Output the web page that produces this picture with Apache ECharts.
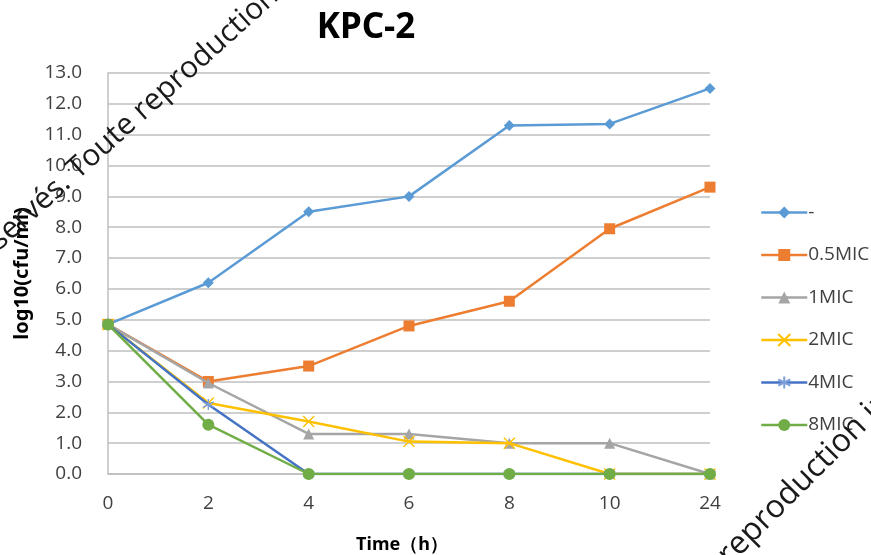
<!DOCTYPE html>
<html>
<head>
<meta charset="utf-8">
<script src="https://cdn.jsdelivr.net/npm/echarts@6/dist/echarts.min.js"></script>
<style>
  html, body { margin: 0; padding: 0; background: #fff; }
  #chart { width: 871px; height: 555px; }
</style>
</head>
<body>
<div id="chart"></div>
<script>
// Sampling times (h)
const timePoints = ['0', '2', '4', '6', '8', '10', '24'];

// log10(cfu/ml) per treatment
const seriesNames = ['-', '0.5MIC', '1MIC', '2MIC', '4MIC', '8MIC'];
const ctrl    = [4.85, 6.2, 8.5, 9.0, 11.3, 11.35, 12.5];
const mic05   = [4.85, 3.0, 3.5, 4.8, 5.6, 7.95, 9.3];
const mic1    = [4.85, 2.95, 1.3, 1.3, 1.0, 1.0, 0.0];
const mic2    = [4.85, 2.3, 1.7, 1.05, 1.0, 0.0, 0.0];
const mic4    = [4.85, 2.25, 0.0, 0.0, 0.0, 0.0, 0.0];
const mic8    = [4.85, 1.6, 0.0, 0.0, 0.0, 0.0, 0.0];

const yTicks = { min: 0, max: 13, interval: 1 };

const palette = ['#5B9BD5', '#ED7D31', '#A5A5A5', '#FFC000', '#4472C4', '#70AD47'];
const symbols = [
  'diamond',
  'rect',
  'triangle',
  'path://M0,0L10,10M10,0L0,10',
  'path://M5,0L5,10M0.7,2.5L9.3,7.5M0.7,7.5L9.3,2.5',
  'circle'
];
const symbolSizes = [11, 11, 11, 11, 11, 12];
const values = [ctrl, mic05, mic1, mic2, mic4, mic8];

const font = '"Open Sans", sans-serif';

const chart = echarts.init(document.getElementById('chart'), null, { renderer: 'canvas' });

const series = seriesNames.map((name, i) => {
  const strokeOnly = i === 3 || i === 4;
  const markColor = i === 4 ? '#7F9FDB' : palette[i];
  return {
    name: name,
    type: 'line',
    data: values[i],
    symbol: symbols[i],
    symbolSize: symbolSizes[i],
    showAllSymbol: true,
    z: 2 + i,
    lineStyle: { color: palette[i], width: 2.5 },
    itemStyle: strokeOnly
      ? { color: markColor, borderColor: markColor, borderWidth: 1.4 }
      : { color: palette[i], borderWidth: 0 },
    emphasis: { disabled: true },
    animation: false
  };
});

// Diagonal notice text printed across the sheet
function notice(x, y, deg, before, after, color, size) {
  const rot = deg * Math.PI / 180;
  const common = { fontSize: size, fontFamily: '"Open Sans", sans-serif', fill: color, verticalAlign: 'middle' };
  return [
    { type: 'text', x: x, y: y, rotation: rot, z: 100, silent: true,
      style: Object.assign({ text: before, align: 'right' }, common) },
    { type: 'text', x: x, y: y, rotation: rot, z: 100, silent: true,
      style: Object.assign({ text: after, align: 'left' }, common) }
  ];
}

chart.setOption({
  backgroundColor: '#ffffff',
  animation: false,
  title: {
    text: 'KPC-2',
    left: 361,
    top: 6,
    textAlign: 'center',
    textStyle: { fontSize: 35, fontWeight: 'bold', color: '#000', fontFamily: '"Noto Sans", sans-serif' }
  },
  grid: { left: 108, right: 161, top: 73, bottom: 81, containLabel: false, outerBoundsMode: 'none' },
  legend: {
    orient: 'vertical',
    left: 755,
    top: 198,
    itemWidth: 46,
    itemHeight: 15,
    itemGap: 23.5,
    lineStyle: { width: 2.5 },
    textStyle: { fontSize: 19, color: '#404040', fontFamily: font, lineHeight: 18, padding: [0, 0, 0, -4] },
    data: seriesNames
  },
  xAxis: {
    type: 'category',
    data: timePoints,
    boundaryGap: false,
    name: 'Time（h）',
    nameLocation: 'middle',
    nameGap: 62,
    nameTextStyle: { fontSize: 18, fontWeight: 'bold', color: '#000', fontFamily: '"Noto Sans", sans-serif',
      padding: [0, 14, 0, 0] },
    axisLine: { lineStyle: { color: '#BFBFBF', width: 1.5 } },
    axisTick: { show: false },
    axisLabel: { fontSize: 19, color: '#404040', margin: 20, fontFamily: font },
    splitLine: { show: false }
  },
  yAxis: {
    type: 'value',
    min: yTicks.min,
    max: yTicks.max,
    interval: yTicks.interval,
    name: 'log10(cfu/ml)',
    nameLocation: 'middle',
    nameGap: 76,
    nameRotate: 90,
    nameTextStyle: { fontSize: 20, fontWeight: 'bold', color: '#000', fontFamily: '"Noto Sans", sans-serif' },
    axisLine: { show: true, lineStyle: { color: '#BFBFBF', width: 1.5 } },
    axisTick: { show: false },
    axisLabel: { fontSize: 19, color: '#404040', margin: 26, fontFamily: font,
      formatter: v => v.toFixed(1) },
    splitLine: { lineStyle: { color: '#BFBFBF', width: 1.5 } }
  },
  series: series,
  graphic: [
    ...notice(72, 174, 42, 'Droits réservés. ', 'Toute reproduction interdite', '#1a1a1a', 30),
    ...notice(723, 560, 45, 'réservés. Toute ', 'reproduction interdite', '#1a1a1a', 32)
  ]
});
</script>
</body>
</html>
